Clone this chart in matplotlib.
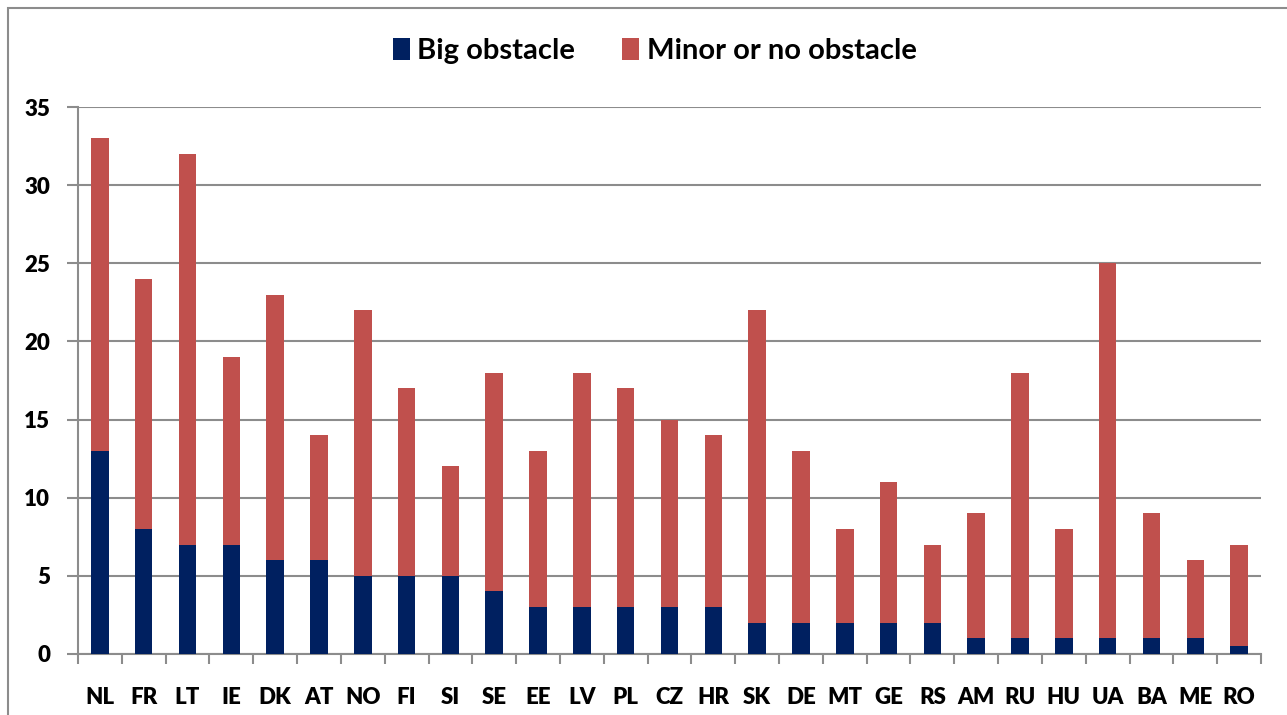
import matplotlib
import matplotlib.pyplot as plt
from matplotlib.patches import Rectangle
import numpy as np

matplotlib.use('Agg')

countries = ['NL', 'FR', 'LT', 'IE', 'DK', 'AT', 'NO', 'FI', 'SI', 'SE', 'EE', 'LV', 'PL', 'CZ',
             'HR', 'SK', 'DE', 'MT', 'GE', 'RS', 'AM', 'RU', 'HU', 'UA', 'BA', 'ME', 'RO']
big = [13, 8, 7, 7, 6, 6, 5, 5, 5, 4, 3, 3, 3, 3, 3, 2, 2, 2, 2, 2, 1, 1, 1, 1, 1, 1, 0.5]
totals = [33, 24, 32, 19, 23, 14, 22, 17, 12, 18, 13, 18, 17, 15, 14, 22, 13, 8, 11, 7, 9, 18,
          8, 25, 9, 6, 7]
minor = [t - b for t, b in zip(totals, big)]
yticks = list(range(0, 36, 5))

plt.rcParams['font.family'] = ['Lato', 'DejaVu Sans']
plt.rcParams['font.weight'] = 'bold'

fig = plt.figure(figsize=(12.87, 7.15), dpi=100)
# outer chart border (right and bottom edges fall outside the picture)
fig.patches.append(Rectangle((8 / 1287, -0.1), 1.2, 1.1 - 8 / 715, transform=fig.transFigure,
                             fill=False, edgecolor='#8c8c8c', linewidth=1.5))
ax = fig.add_axes([78 / 1287, 61 / 715, 1183 / 1287, 547 / 715])

x = np.arange(len(countries))
w = 0.40
b1 = ax.bar(x, big, w, color='#002060', label='Big obstacle', zorder=3)
b2 = ax.bar(x, minor, w, bottom=big, color='#C0504D', label='Minor or no obstacle', zorder=3)

ax.set_xlim(-0.5, len(countries) - 0.5)
ax.set_ylim(0, 35)
ax.yaxis.grid(True, color='#8c8c8c', linewidth=1.5, zorder=0)
ax.set_axisbelow(True)
for s in ['top', 'right']:
    ax.spines[s].set_visible(False)
for s in ['left', 'bottom']:
    ax.spines[s].set_color('#8c8c8c')
    ax.spines[s].set_linewidth(1.5)

ax.set_xticks(np.arange(-0.5, len(countries)), minor=True)
ax.tick_params(axis='x', which='major', length=0, pad=24)
ax.tick_params(axis='x', which='minor', length=7, width=1.5, color='#8c8c8c')
ax.tick_params(axis='y', length=8, width=1.5, color='#8c8c8c', pad=12)
ax.set_xticks(x, labels=countries, fontsize=16, fontweight='heavy')
ax.set_yticks(yticks, labels=[str(v) for v in yticks], fontsize=16, fontweight='heavy')

fig.legend(handles=[b1, b2], loc='center', bbox_to_anchor=(0.5 + 11 / 1287, 1 - 51 / 715), ncol=2,
           frameon=False, handlelength=0.6, handleheight=0.8, handletextpad=0.25,
           columnspacing=1.6, prop={'weight': 'bold', 'size': 21})

fig.savefig('out.png', dpi=100)
